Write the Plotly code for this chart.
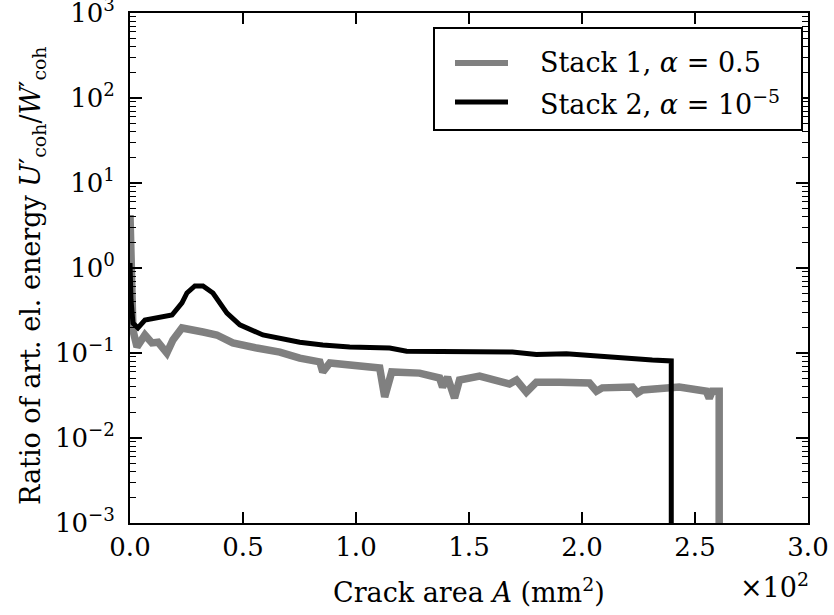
import plotly.graph_objects as go

# Stack 1 (alpha = 0.5): crack area (mm^2) vs. ratio of artificial elastic energy
stack1_area = [0.0, 1.3, 3.1, 6.6, 9.7, 12.4, 16.3, 19.0, 23.0, 26.5, 32.3, 38.4,
               45.5, 56.1, 66.3, 75.1, 84.0, 85.3, 88.4, 110.5, 112.7, 115.8,
               128.1, 137.0, 138.3, 140.5, 143.6, 145.8, 154.7, 167.9, 171.0,
               175.4, 179.8, 190.0, 203.3, 206.4, 209.0, 222.3, 224.5, 226.7,
               243.0, 255.0, 256.3, 257.6, 260.7, 260.7]
stack1_ratio = [4.20, 0.186, 0.118, 0.163, 0.1315, 0.134, 0.0998, 0.1425, 0.197,
                0.186, 0.1765, 0.163, 0.1315, 0.1143, 0.1025, 0.087, 0.0785, 0.0598,
                0.0762, 0.0666, 0.0304, 0.0598, 0.058, 0.0508, 0.0398, 0.0521,
                0.0295, 0.048, 0.0535, 0.0431, 0.048, 0.0346, 0.0454, 0.0454,
                0.0444, 0.0355, 0.0389, 0.0398, 0.0337, 0.0367, 0.0398, 0.0355,
                0.0293, 0.0355, 0.0355, 1e-6]

# Stack 2 (alpha = 1e-5)
stack2_area = [0.0, 0.44, 1.3, 3.5, 6.6, 13.3, 18.6, 23.0, 25.2, 28.7, 32.3, 36.7,
               42.9, 48.6, 58.8, 75.1, 85.3, 97.2, 114.9, 122.4, 154.7, 169.2,
               179.8, 193.1, 231.1, 239.5, 239.5]
stack2_ratio = [1.146, 0.42, 0.225, 0.197, 0.244, 0.265, 0.28, 0.388, 0.508, 0.615,
                0.615, 0.508, 0.295, 0.214, 0.163, 0.134, 0.1243, 0.118, 0.1143,
                0.105, 0.105, 0.1025, 0.0962, 0.098, 0.0825, 0.0807, 1e-6]

series_names = ["Stack 1, <i>α</i> = 0.5", "Stack 2, <i>α</i> = 10<sup>−5</sup>"]
series_colors = ["#808080", "#000000"]
series_widths = [7.5, 5]

x_tickvals = [0, 50, 100, 150, 200, 250, 300]
x_ticktext = ["0.0", "0.5", "1.0", "1.5", "2.0", "2.5", "3.0"]
y_exponents = [-3, -2, -1, 0, 1, 2, 3]
y_tickvals = [10.0 ** e for e in y_exponents]
y_ticktext = [f"10<sup>{str(e).replace('-', '−')}</sup>" for e in y_exponents]
y_minor = [m * 10.0 ** e for e in y_exponents[:-1] for m in range(2, 10)]

W, H = 834, 615
L, R, T, B = 130, 26, 13, 92
FONT = "DejaVu Serif"
TICK_SIZE = 26
TEXT_SIZE = 27


def px_x(px):
    return (px - L) / (W - L - R)


def px_y(py):
    return 1 - (py - T) / (H - T - B)


fig = go.Figure()
for xs, ys, name, color, width in zip(
    [stack1_area, stack2_area], [stack1_ratio, stack2_ratio],
    series_names, series_colors, series_widths,
):
    fig.add_trace(go.Scatter(
        x=xs, y=ys, mode="lines", name=name,
        line=dict(color=color, width=width, shape="linear"),
        hoverinfo="skip",
    ))

axis_common = dict(
    showline=True, linewidth=2, linecolor="black", mirror="allticks",
    ticks="inside", tickcolor="black", tickwidth=1.5,
    showgrid=False, zeroline=False, automargin=False,
    ticklabeloverflow="allow",
    tickfont=dict(family=FONT, size=TICK_SIZE, color="black"),
)

fig.update_xaxes(
    range=[0, 300], tickmode="array", tickvals=x_tickvals, ticktext=x_ticktext,
    ticklen=11, ticklabelstandoff=0, **axis_common,
)
fig.update_yaxes(
    type="log", range=[-3.0001, 3.0001], tickmode="array", tickvals=y_tickvals,
    ticktext=y_ticktext, ticklen=12, ticklabelstandoff=8,
    minor=dict(tickmode="array", tickvals=y_minor, ticks="inside", ticklen=6,
               tickwidth=1.2, tickcolor="black"),
    **axis_common,
)

annotations = [
    dict(text="Crack area <i>A</i> (mm<sup>2</sup>)", x=px_x(469), y=px_y(590),
         xanchor="center", yanchor="middle"),
    dict(text="×10<sup>2</sup>", x=px_x(811), y=px_y(585),
         xanchor="right", yanchor="middle"),
    dict(text="Ratio of art. el. energy <i>U</i>′<sub>coh</sub>/<i>W</i>′<sub>coh</sub>",
         x=px_x(32), y=px_y(276), xanchor="center", yanchor="middle", textangle=-90),
]

# legend box drawn as shapes + text
shapes = [dict(type="rect", xref="paper", yref="paper",
               x0=px_x(434), x1=px_x(802), y0=px_y(130), y1=px_y(28),
               line=dict(color="black", width=2), fillcolor="white", layer="above")]
legend_line_widths = [6, 5]
for i, (name, color, width) in enumerate(zip(series_names, series_colors, legend_line_widths)):
    row_y = 63 + 39 * i
    shapes.append(dict(type="line", xref="paper", yref="paper",
                       x0=px_x(455), x1=px_x(508), y0=px_y(row_y), y1=px_y(row_y),
                       line=dict(color=color, width=width), layer="above"))
    annotations.append(dict(text=name, x=px_x(538), y=px_y(row_y),
                            xanchor="left", yanchor="middle"))

for a in annotations:
    a.update(xref="paper", yref="paper", showarrow=False,
             font=dict(family=FONT, size=TEXT_SIZE, color="black"))

fig.update_layout(
    width=W, height=H, margin=dict(l=L, r=R, t=T, b=B, autoexpand=False),
    plot_bgcolor="white", paper_bgcolor="white", showlegend=False,
    font=dict(family=FONT, size=TEXT_SIZE, color="black"),
    annotations=annotations, shapes=shapes,
)

fig.write_html("out.html")
